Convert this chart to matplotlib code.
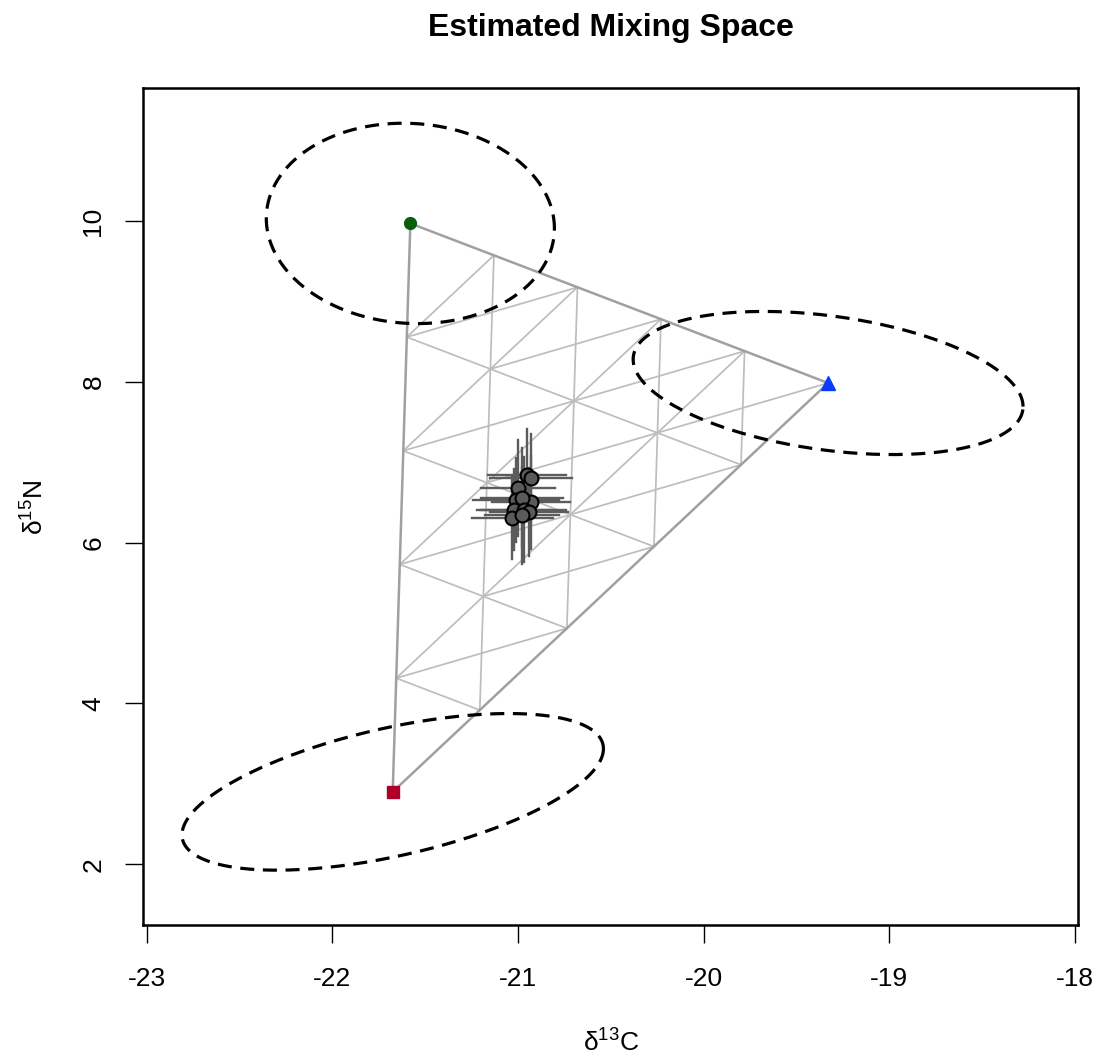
import numpy as np
import matplotlib
matplotlib.use("Agg")
import matplotlib.pyplot as plt

plt.rcParams['font.family'] = ['Liberation Sans', 'DejaVu Sans']
plt.rcParams['mathtext.fontset'] = 'custom'
plt.rcParams['mathtext.rm'] = 'Liberation Sans'
plt.rcParams['mathtext.it'] = 'Liberation Sans:italic'
plt.rcParams['mathtext.bf'] = 'Liberation Sans:bold'

# ---------------- data ----------------
# sources: green (top), blue (right), red (bottom)
src_c = [-21.58, -19.33, -21.675]
src_n = [9.97, 7.985, 2.90]
src_colors = ['#0b5d0b', '#0a3cff', '#b0002a']
src_markers = ['o', '^', 's']
# ellipse half-extents (d13C, d15N) and correlation
ell_c = [0.776, 1.05, 1.135]
ell_n = [1.246, 0.89, 0.974]
ell_rho = [-0.05, -0.33, 0.55]

# consumers
cons_c = [-20.95, -20.93, -21.00, -21.01, -20.93, -20.98, -21.02, -20.97, -20.94, -21.03, -20.98]
cons_n = [6.84, 6.80, 6.68, 6.53, 6.50, 6.56, 6.41, 6.41, 6.38, 6.31, 6.34]
cons_sd_c = [0.21, 0.22, 0.20, 0.23, 0.21, 0.22, 0.20, 0.23, 0.21, 0.22, 0.20]
cons_sd_n = [0.57, 0.55, 0.60, 0.52, 0.58, 0.62, 0.50, 0.65, 0.55, 0.52, 0.60]

n_div = 5
xticks = [-23, -22, -21, -20, -19, -18]
yticks = [2, 4, 6, 8, 10]

# ---------------- figure ----------------
fig = plt.figure(figsize=(11, 10.55), dpi=100)
ax = fig.add_axes([143/1100, 1-925/1055, 935/1100, 837/1055])
ax.set_xlim(-23.02, -17.984)
ax.set_ylim(1.244, 11.654)

G = np.array([src_c[0], src_n[0]])
B = np.array([src_c[1], src_n[1]])
R = np.array([src_c[2], src_n[2]])

def P(g, b, r):
    return (g * G + b * B + r * R) / n_div

grid_col = '#bdbdbd'
grid_lw = 1.25
segs = []
for k in range(1, n_div):
    # constant green
    segs.append((P(k, 0, n_div-k), P(k, n_div-k, 0)))
    # constant blue
    segs.append((P(n_div-k, k, 0), P(0, k, n_div-k)))
    # constant red
    segs.append((P(n_div-k, 0, k), P(0, n_div-k, k)))
# diagonal family: constant (g - r)
for d in range(-n_div, n_div+1):
    pts = [(g, n_div-g-r, r) for g in range(n_div+1) for r in range(n_div+1)
           if g + r <= n_div and g - r == d]
    if len(pts) > 1:
        pts.sort(key=lambda p: p[1])
        segs.append((P(*pts[0]), P(*pts[-1])))
for a, b in segs:
    ax.plot([a[0], b[0]], [a[1], b[1]], color=grid_col, lw=grid_lw, zorder=1)

# triangle outline
tri_x = [G[0], B[0], R[0], G[0]]
tri_y = [G[1], B[1], R[1], G[1]]
ax.plot(tri_x, tri_y, color='#a0a0a0', lw=1.8, zorder=2)

# source markers
for i in range(3):
    ms = 10 if src_markers[i] == '^' else 8.5
    ax.plot(src_c[i], src_n[i], marker=src_markers[i], color=src_colors[i],
            ms=ms, mec=src_colors[i], ls='none', zorder=4)

# ellipses
t = np.linspace(0, 2*np.pi, 400)
for i in range(3):
    ex = src_c[i] + ell_c[i] * np.cos(t)
    ey = src_n[i] + ell_n[i] * (ell_rho[i] * np.cos(t) + np.sqrt(1 - ell_rho[i]**2) * np.sin(t))
    ax.plot(ex, ey, color='black', lw=2.3, ls=(0, (4.4, 2.7)), zorder=3)

# consumers with error bars
for i in range(len(cons_c)):
    ax.plot([cons_c[i]-cons_sd_c[i], cons_c[i]+cons_sd_c[i]], [cons_n[i], cons_n[i]],
            color='#5c5c5c', lw=1.7, zorder=5)
    ax.plot([cons_c[i], cons_c[i]], [cons_n[i]-cons_sd_n[i], cons_n[i]+cons_sd_n[i]],
            color='#5c5c5c', lw=1.7, zorder=5)
ax.plot(cons_c, cons_n, 'o', ms=10, mfc='#5a5a5a', mec='black', mew=1.5, ls='none', zorder=6)

# axes styling
for sp in ax.spines.values():
    sp.set_linewidth(1.8)
ax.set_xticks(xticks)
ax.set_yticks(yticks)
ax.set_xticklabels([str(v) for v in xticks])
ax.set_yticklabels([str(v) for v in yticks])
ax.tick_params(axis='both', direction='out', length=13, width=1.0, labelsize=19)
ax.tick_params(axis='x', pad=17)
ax.tick_params(axis='y', pad=14, labelrotation=90)
for lbl in ax.get_yticklabels():
    lbl.set_va('center')

fig.text(611/1100, 1-1043/1055, r'δ$^{13}$C', ha='center', va='center', fontsize=19)
fig.text(35/1100, 1-507/1055, r'δ$^{15}$N', ha='center', va='center', fontsize=19, rotation=90)
fig.text(611/1100, 1-28/1055, 'Estimated Mixing Space', ha='center', va='center',
         fontsize=23, fontweight='bold')

fig.savefig('out.png', dpi=100)
